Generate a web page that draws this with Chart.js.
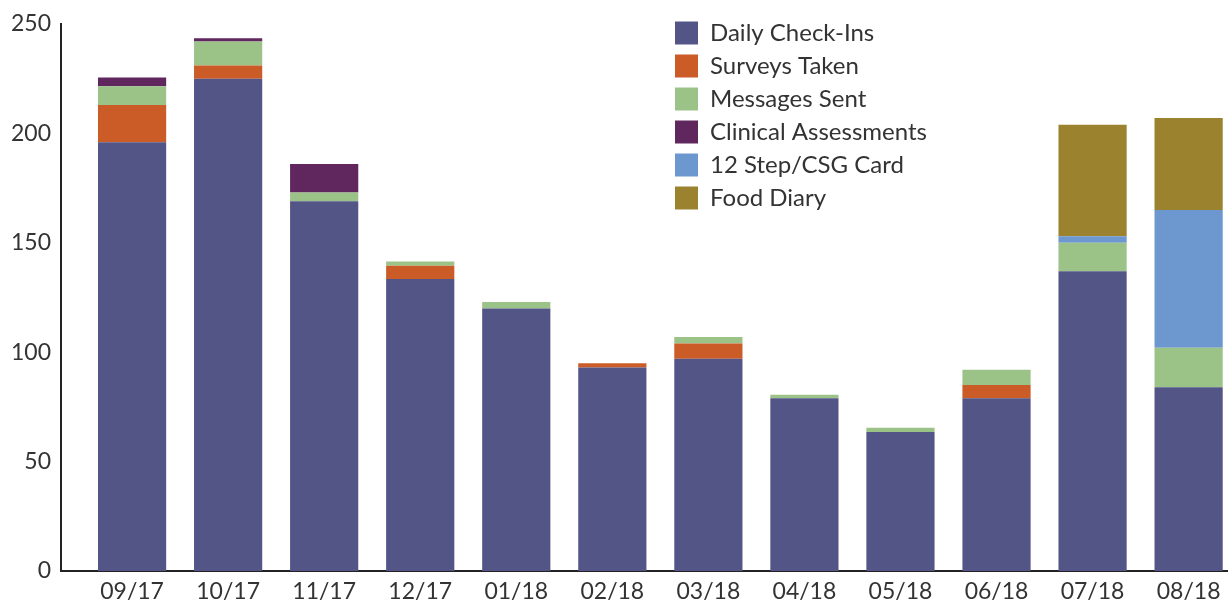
<!DOCTYPE html>
<html>
<head>
<meta charset="utf-8">
<script src="https://cdn.jsdelivr.net/npm/chart.js@4"></script>
<style>
  html, body { margin: 0; padding: 0; background: #fff; overflow: hidden; }
  #wrap { width: 1228px; height: 601px; position: relative; }
</style>
</head>
<body>
<div id="wrap"><canvas id="myChart"></canvas></div>
<script>
const months = ['09/17', '10/17', '11/17', '12/17', '01/18', '02/18', '03/18', '04/18', '05/18', '06/18', '07/18', '08/18'];
const dailyCheckIns = [196, 225, 169, 133.5, 120, 93, 97, 79, 63.5, 79, 137, 84];
const surveysTaken = [17, 6, 0, 6, 0, 2, 7, 0, 0, 6, 0, 0];
const messagesSent = [8.5, 11, 4, 2, 3, 0, 3, 1.5, 2, 7, 13, 18];
const clinicalAssessments = [4, 1.5, 13, 0, 0, 0, 0, 0, 0, 0, 0, 0];
const stepCards = [0, 0, 0, 0, 0, 0, 0, 0, 0, 0, 3, 63];
const foodDiary = [0, 0, 0, 0, 0, 0, 0, 0, 0, 0, 51, 42];
const yTicks = [0, 50, 100, 150, 200, 250];

const ink = '#333333';
const fontFamily = 'Lato, "Open Sans", sans-serif';

function points(values) {
    return values.map((v, i) => ({ x: i, y: v }));
}

const data = [
    { label: 'Daily Check-Ins', data: points(dailyCheckIns), backgroundColor: '#535587' },
    { label: 'Surveys Taken', data: points(surveysTaken), backgroundColor: '#CB5B27' },
    { label: 'Messages Sent', data: points(messagesSent), backgroundColor: '#9BC388' },
    { label: 'Clinical Assessments', data: points(clinicalAssessments), backgroundColor: '#5F275E' },
    { label: '12 Step/CSG Card', data: points(stepCards), backgroundColor: '#6C97CF' },
    { label: 'Food Diary', data: points(foodDiary), backgroundColor: '#9B822F' }
];

// put the legend box in the top right corner of the plot
const legendSpot = {
    id: 'legendSpot',
    afterLayout(chart) {
        const lg = chart.legend;
        const w = lg.width;
        lg.left = 666;
        lg.right = lg.left + w;
        lg.top = 12;
        lg.bottom = lg.top + lg.height;
    }
};

const ctx = document.getElementById('myChart').getContext('2d');
const myChart = new Chart(ctx, {
    type: 'bar',
    data: { datasets: data },
    plugins: [legendSpot],
    options: {
        responsive: true,
        maintainAspectRatio: false,
        animation: false,
        layout: { padding: { top: 24, right: 0, left: 0, bottom: 0 } },
        datasets: {
            bar: { categoryPercentage: 1, barPercentage: 0.71, borderWidth: 0 }
        },
        plugins: {
            legend: {
                position: 'chartArea',
                align: 'start',
                labels: {
                    boxWidth: 23,
                    boxHeight: 23,
                    padding: 9,
                    color: ink,
                    font: { family: fontFamily, size: 24 }
                }
            },
            tooltip: { enabled: false }
        },
        scales: {
            x: {
                type: 'linear',
                stacked: true,
                offset: false,
                min: -0.74,
                max: 11.41,
                grid: { display: false, drawTicks: false, offset: false },
                border: { display: true, color: '#222', width: 2 },
                afterBuildTicks(scale) {
                    scale.ticks = months.map((m, i) => ({ value: i }));
                },
                afterFit(scale) { scale.height = 30; },
                ticks: {
                    padding: 7,
                    color: ink,
                    font: { family: fontFamily, size: 23 },
                    maxRotation: 0,
                    autoSkip: false,
                    callback: (value) => months[value]
                }
            },
            y: {
                stacked: true,
                min: 0,
                max: 250,
                grid: { display: false, drawTicks: false },
                border: { display: true, color: '#222', width: 2 },
                afterBuildTicks(scale) {
                    scale.ticks = yTicks.map(v => ({ value: v }));
                },
                afterFit(scale) { scale.width = 61; },
                ticks: {
                    padding: 10,
                    color: ink,
                    font: { family: fontFamily, size: 23 }
                }
            }
        }
    }
});
</script>
</body>
</html>
